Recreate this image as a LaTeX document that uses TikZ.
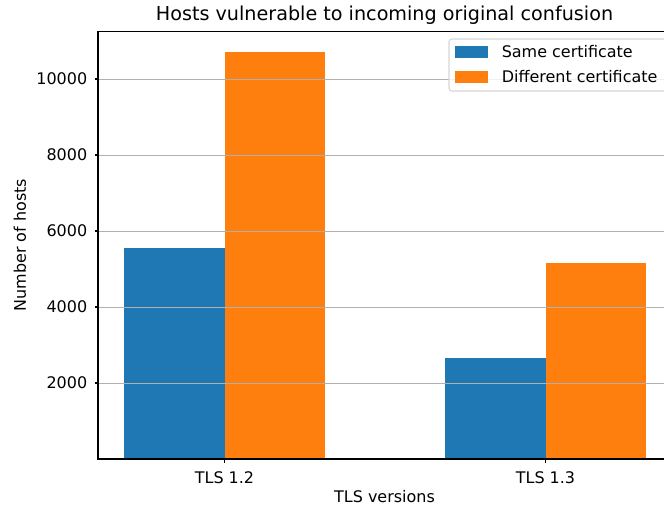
\documentclass[tikz,border=0pt]{standalone}
\usepackage{fontspec}
\setmainfont{DejaVu Sans}
\usetikzlibrary{positioning}
\definecolor{tabblue}{HTML}{1F77B4}
\definecolor{taborange}{HTML}{FF7F0E}
\definecolor{gridgray}{HTML}{B0B0B0}
\definecolor{legendedge}{HTML}{D6D6D6}
\tikzset{gridline/.style = {gridgray, line width=0.6pt},
         spine/.style    = {black, line width=0.9pt, line cap=rect},
         tickmark/.style = {black, line width=0.9pt},
         ticklabel/.style = {font=\fontsize{11.5}{13}\selectfont, inner sep=0pt},
         patch/.style    = {minimum width=24pt, minimum height=8.6pt, inner sep=0pt},
         legendtext/.style = {font=\fontsize{11.5}{13}\selectfont, inner sep=0pt, anchor=west}}

\begin{document}
\begin{tikzpicture}[x=0.72pt, y=-0.72pt]
      \clip (0,0) rectangle (664,509);
      \fill[white] (0,0) rectangle (664,509);

      % bars, values in thousands of hosts
      \begin{scope}[shift={(0,459)}, yscale=-38]
        \foreach \xc/\same/\diff in {224.5/5.553/10.711, 545.5/2.658/5.158} {
          \fill[tabblue] (\xc-100.5, 0) rectangle (\xc, \same);
          \fill[taborange] (\xc, 0) rectangle (\xc+100.5, \diff);
        }
        \foreach \v in {2,4,6,8,10} {
          \draw [gridline] (98, \v) -- (671, \v);
          \draw [tickmark] (98, \v) -- +(-3.5, 0);
          \node [ticklabel, anchor=east] at (87.5, \v) {\the\numexpr\v*1000\relax};
        }
      \end{scope}

      % axes
      \draw [spine] (98, 459) -- (98, 31.5) -- (671, 31.5);
      \draw [spine] (98, 459) -- (671, 459);

      \foreach \xc/\name in {224.5/TLS 1.2, 545.5/TLS 1.3} {
        \draw [tickmark] (\xc, 459) -- +(0, 3.5);
        \node [ticklabel] at (\xc, 478) {\name};
      }

      \node (title) [font=\fontsize{13.8}{16}\selectfont, inner sep=0pt] at (384.5, 15)
        {Hosts vulnerable to incoming original confusion};
      \node (ylabel) [ticklabel, rotate=90] at (20, 245) {Number of hosts};
      \node (xlabel) [ticklabel] at (384.5, 497) {TLS versions};

      % legend
      \draw [legendedge, fill=white, fill opacity=0.8, line width=0.8pt, rounded corners=2pt]
        (449, 39) rectangle (680, 91);
      \node (same) [patch, fill=tabblue] at (471.5, 52) {};
      \node (diff) [patch, fill=taborange, below=8.7pt of same] {};
      \node (samelabel) [legendtext, right=9.4pt of same] {Same certificate};
      \node (difflabel) [legendtext, right=9.4pt of diff] {Different certificate};
    \end{tikzpicture}
\end{document}
